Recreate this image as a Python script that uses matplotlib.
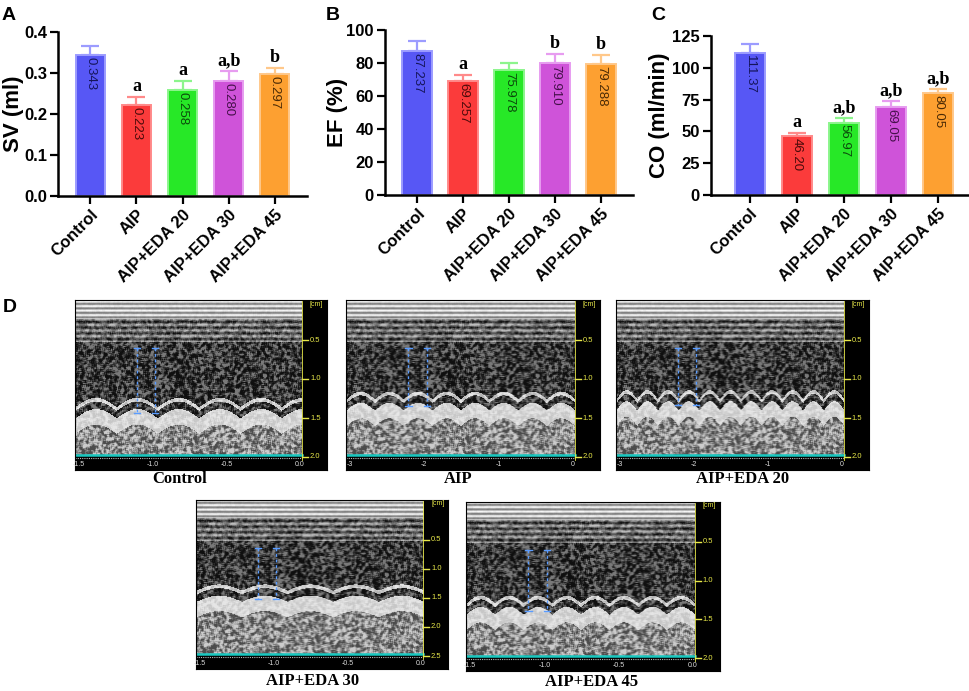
import numpy as np
import matplotlib
matplotlib.use("Agg")
import matplotlib.pyplot as plt

groups = ["Control", "AIP", "AIP+EDA 20", "AIP+EDA 30", "AIP+EDA 45"]
bar_colors = ["#5757f5", "#fb3b3b", "#27e827", "#cf53d9", "#fda031"]
edge_colors = ["#9c9cff", "#ff8a8a", "#8cf58c", "#e79cf0", "#ffc88a"]
text_colors = ["#15155a", "#4a0a0a", "#0b4a0b", "#45104a", "#4a2a05"]

sv_mean = [0.343, 0.223, 0.258, 0.280, 0.297]
sv_err = [0.022, 0.019, 0.022, 0.024, 0.016]
sv_labels = ["0.343", "0.223", "0.258", "0.280", "0.297"]
sv_sig = ["", "a", "a", "a,b", "b"]

ef_mean = [87.237, 69.257, 75.978, 79.910, 79.288]
ef_err = [6.2, 3.7, 3.8, 5.6, 5.4]
ef_labels = ["87.237", "69.257", "75.978", "79.910", "79.288"]
ef_sig = ["", "a", "", "b", "b"]

co_mean = [111.37, 46.20, 56.97, 69.05, 80.05]
co_err = [7.6, 2.8, 3.7, 5.0, 3.3]
co_labels = ["111.37", "46.20", "56.97", "69.05", "80.05"]
co_sig = ["", "a", "a,b", "a,b", "a,b"]

W, H = 969, 691
fig = plt.figure(figsize=(W / 100, H / 100), dpi=100)
fig.patch.set_facecolor("white")

SANS = "Liberation Sans"
SERIF = "Liberation Serif"


def px_axes(x0, y0, x1, y1):
    return fig.add_axes([x0 / W, 1 - y1 / H, (x1 - x0) / W, (y1 - y0) / H])


def bar_panel(box, means, errs, labels, sig, ylim, yticks, ytick_labels, xlim, ylabel, ylab_x, letter, letter_x):
    ax = px_axes(*box)
    x = np.arange(len(groups))
    ax.bar(x, means, width=0.64, color=bar_colors, edgecolor=edge_colors, linewidth=1.4, zorder=2)
    for i in range(len(groups)):
        ax.errorbar(x[i], means[i], yerr=[[0], [errs[i]]], fmt="none",
                    ecolor=edge_colors[i], elinewidth=1.6, capsize=6.5, capthick=1.6, zorder=1)
        ax.text(x[i], means[i] - ylim[1] * 0.012, labels[i], rotation=-90, ha="center", va="top",
                fontsize=9.5, family=SANS, color=text_colors[i], zorder=3)
        if sig[i]:
            ax.text(x[i], means[i] + errs[i] + ylim[1] * 0.012, sig[i], ha="center", va="bottom",
                    fontsize=13, family=SERIF, fontweight="bold", color="black")
    ax.set_xlim(*xlim)
    ax.set_ylim(*ylim)
    ax.set_yticks(yticks)
    ax.set_yticklabels(ytick_labels, fontsize=12, family=SANS, fontweight="bold")
    ax.set_xticks(x)
    ax.set_xticklabels(groups, rotation=45, ha="right", rotation_mode="anchor",
                       fontsize=12, family=SANS, fontweight="bold")
    for s in ["top", "right"]:
        ax.spines[s].set_visible(False)
    for s in ["left", "bottom"]:
        ax.spines[s].set_linewidth(1.8)
    ax.tick_params(axis="both", width=1.6, length=6, direction="out", pad=2)
    cy = (box[1] + box[3]) / 2
    fig.text(ylab_x / W, 1 - cy / H, ylabel, rotation=90, ha="center", va="center",
             fontsize=16, family=SANS, fontweight="bold")
    fig.text(letter_x / W, 1 - 15 / H, letter, ha="left", va="center",
             fontsize=14, family=SANS, fontweight="bold")
    return ax


bar_panel((58, 32, 307, 196), sv_mean, sv_err, sv_labels, sv_sig, (0, 0.4),
          [0, 0.1, 0.2, 0.3, 0.4], ["0.0", "0.1", "0.2", "0.3", "0.4"], (-0.7, 4.7),
          "SV (ml)", 13, "A", 2)
bar_panel((385, 30, 633, 195), ef_mean, ef_err, ef_labels, ef_sig, (0, 100),
          [0, 20, 40, 60, 80, 100], ["0", "20", "40", "60", "80", "100"], (-0.7, 4.7),
          "EF (%)", 337, "B", 326)
bar_panel((711, 36, 968, 195), co_mean, co_err, co_labels, co_sig, (0, 125),
          [0, 25, 50, 75, 100, 125], ["0", "25", "50", "75", "100", "125"], (-0.83, 4.64),
          "CO (ml/min)", 660, "C", 651)

fig.text(3 / W, 1 - 307 / H, "D", ha="left", va="center", fontsize=14, family=SANS, fontweight="bold")


def echo_texture(cycles, wall, amp, h=155, w=227):
    # grainy M-mode look: hashed speckle, smoothed into clumps
    y, x = np.mgrid[0:h, 0:w].astype(float)
    yy = y / h
    xx = x / w
    g = np.sin(x * 12.9898 + y * 78.233) * 43758.5453
    g = g - np.floor(g)
    sm = np.zeros_like(g)
    for dy in (-1, 0, 1):
        for dx in (-1, 0, 1):
            sm += np.roll(np.roll(g, dy, 0), dx, 1)
    sm /= 9
    speck = np.clip((sm - 0.5) * 4.0 + 0.5, 0, 1)
    wall_top = wall - amp * np.abs(np.sin(np.pi * cycles * xx))
    img = 0.3 + 0.5 * speck
    top = yy < 0.12
    img[top] = 0.70 + 0.22 * np.sin(y[top] * 1.4) + 0.05 * speck[top]
    mid = (yy >= 0.12) & (yy < 0.27)
    img[mid] = 0.40 + 0.2 * np.sin(y[mid] * 1.1) + 0.3 * (speck[mid] - 0.5)
    dark = (yy >= 0.27) & (yy < wall_top)
    img[dark] = 0.06 + 0.42 * speck[dark] ** 1.5
    line = dark & (np.abs(yy - (wall_top - 0.06)) < 0.012)
    img[line] = 0.7 + 0.2 * speck[line]
    band = (yy >= wall_top) & (yy < wall_top + 0.1)
    img[band] = 0.78 + 0.12 * speck[band]
    return np.clip(img, 0, 1)


def echo_panel(box, label, label_x, label_y, cycles, wall, amp, depths, xlabels):
    ax = px_axes(*box)
    ax.set_facecolor("black")
    ax.set_xlim(0, 252)
    ax.set_ylim(170, 0)
    ax.imshow(echo_texture(cycles, wall, amp), cmap="gray", vmin=0, vmax=1,
              extent=(0, 227, 155, 0), aspect="auto", interpolation="bilinear", zorder=0)
    # measurement calipers
    wt = (wall - amp * 0.5) * 155
    for xm in (62, 80):
        ax.plot([xm, xm], [48, wt], color="#5a9cff", lw=1.0, ls=(0, (2, 2)), zorder=3)
        ax.plot([xm - 3, xm + 3], [48, 48], color="#5a9cff", lw=1.0, zorder=3)
        ax.plot([xm - 3, xm + 3], [wt, wt], color="#5a9cff", lw=1.0, zorder=3)
    ax.plot([0, 227], [155, 155], color="#19c8c0", lw=1.8)
    ax.plot([0, 227], [158, 158], color="#bbbbbb", lw=0.8, ls=(0, (1, 1)))
    n = len(depths)
    for i, d in enumerate(depths):
        yv = 40 + i * (117 / (n - 1))
        ax.plot([227, 233], [yv, yv], color="#e8e84a", lw=1)
        ax.text(235, yv, d, color="#e8e84a", fontsize=5.5, family=SANS, va="center", ha="left")
    ax.text(235, 4, "[cm]", color="#e8e84a", fontsize=5, family=SANS, va="center", ha="left")
    ax.plot([227, 227], [0, 160], color="#e8e84a", lw=0.6)
    for i, t in enumerate(xlabels):
        xv = 4 + i * (221 / (len(xlabels) - 1))
        ax.text(xv, 164, t, color="#dddddd", fontsize=5, family=SANS, va="center", ha="center")
    ax.set_xticks([])
    ax.set_yticks([])
    for s in ax.spines.values():
        s.set_color("black")
    fig.text(label_x / W, 1 - label_y / H, label, ha="center", va="center",
             fontsize=12, family=SERIF, fontweight="bold")
    return ax


echo_panel((75, 300, 327, 470), "Control", 180, 479, 5.5, 0.76, 0.06,
           ["0.5", "1.0", "1.5", "2.0"], ["-1.5", "-1.0", "-0.5", "0.0"])
echo_panel((346, 300, 600, 470), "AIP", 458, 479, 8, 0.71, 0.05,
           ["0.5", "1.0", "1.5", "2.0"], ["-3", "-2", "-1", "0"])
echo_panel((616, 300, 869, 470), "AIP+EDA 20", 743, 479, 11, 0.71, 0.06,
           ["0.5", "1.0", "1.5", "2.0"], ["-3", "-2", "-1", "0"])
echo_panel((196, 500, 448, 669), "AIP+EDA 30", 313, 681, 5, 0.66, 0.04,
           ["0.5", "1.0", "1.5", "2.0", "2.5"], ["-1.5", "-1.0", "-0.5", "0.0"])
echo_panel((466, 502, 720, 671), "AIP+EDA 45", 592, 682, 8, 0.73, 0.05,
           ["0.5", "1.0", "1.5", "2.0"], ["-1.5", "-1.0", "-0.5", "0.0"])

fig.savefig("out.png", dpi=100)
